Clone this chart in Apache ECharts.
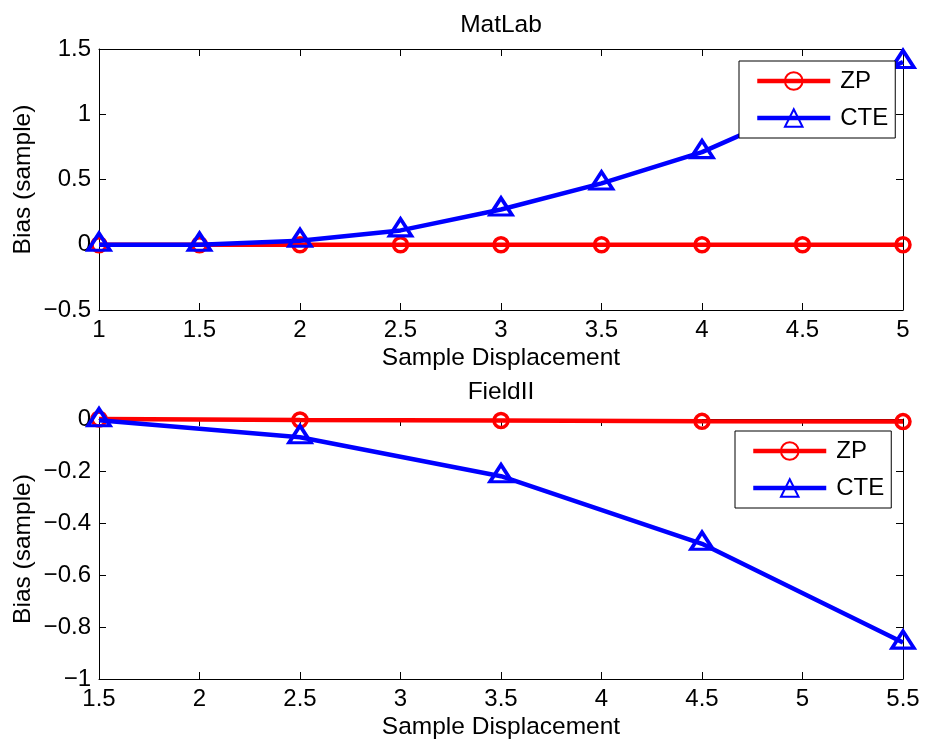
<!DOCTYPE html>
<html>
<head>
<meta charset="utf-8">
<script src="https://cdn.jsdelivr.net/npm/echarts@6/dist/echarts.min.js"></script>
<style>
  html, body { margin: 0; padding: 0; background: #fff; }
  #chart { width: 925px; height: 746px; }
</style>
</head>
<body>
<div id="chart"></div>
<script>
// Upper panel: simulated (MatLab) bias vs. displacement
const matlabX = [1, 1.5, 2, 2.5, 3, 3.5, 4, 4.5, 5];
const matlabZP = [0, 0, 0, 0, 0, 0, 0, 0, 0];
const matlabCTE = [0, 0, 0.03, 0.11, 0.27, 0.47, 0.71, 1.05, 1.40];

// Lower panel: Field II bias vs. displacement
const fieldX = [1.5, 2.5, 3.5, 4.5, 5.5];
const fieldZP = [0, -0.004, -0.006, -0.009, -0.01];
const fieldCTE = [-0.005, -0.07, -0.22, -0.48, -0.86];

const panelTitles = ['MatLab', 'FieldII'];
const seriesNames = ['ZP', 'CTE'];
const xLabel = 'Sample Displacement';
const yLabel = 'Bias (sample)';

const FONT = "'Liberation Sans', Arial, Helvetica, sans-serif";
const FS = 24;      // tick labels and legend
const FS_NAME = 24.5; // axis names and panel titles

const pairs = (xs, ys) => xs.map((x, i) => [x, ys[i]]);
const fmt = v => String(+(+v).toFixed(4)).replace('-', '\u2212');

function axis(gridIndex, position, range, opts) {
  const a = {
    type: 'value',
    gridIndex,
    position,
    min: range[0],
    max: range[1],
    interval: range[2],
    axisLine: { show: true, onZero: false, lineStyle: { color: '#000', width: 1 } },
    axisTick: { show: true, inside: true, length: 7, lineStyle: { color: '#000', width: 1 } },
    splitLine: { show: false },
    axisLabel: { show: false },
    nameMoveOverlap: false,
    nameTextStyle: { fontFamily: FONT, fontSize: FS_NAME, color: '#000' }
  };
  return Object.assign(a, opts || {});
}

const labelStyle = { show: true, color: '#000', fontFamily: FONT, fontSize: FS, formatter: fmt };

function xMain(gridIndex, range) {
  return axis(gridIndex, 'bottom', range, {
    axisLabel: Object.assign({ margin: 8 }, labelStyle),
    name: xLabel, nameLocation: 'middle', nameGap: 36
  });
}
function yMain(gridIndex, range) {
  return axis(gridIndex, 'left', range, {
    axisLabel: Object.assign({ margin: 8 }, labelStyle),
    name: yLabel, nameLocation: 'middle', nameGap: 63
  });
}

const topX = [1, 5, 0.5], topY = [-0.5, 1.5, 0.5];
const botX = [1.5, 5.5, 0.5], botY = [-1, 0, 0.2];

function zpSeries(xi, yi, data) {
  return {
    type: 'line', name: seriesNames[0], xAxisIndex: xi, yAxisIndex: yi,
    data, clip: false, z: 2,
    symbol: 'circle', symbolSize: 14,
    lineStyle: { color: '#ff0000', width: 4.5 },
    itemStyle: { color: 'rgba(0,0,0,0)', borderColor: '#ff0000', borderWidth: 3.5 },
    emphasis: { disabled: true }
  };
}
function cteSeries(xi, yi, data) {
  return {
    type: 'line', name: seriesNames[1], xAxisIndex: xi, yAxisIndex: yi,
    data, clip: false, z: 3,
    symbol: 'triangle', symbolSize: [22, 17], symbolOffset: [0, -3],
    lineStyle: { color: '#0000ff', width: 4.5 },
    itemStyle: { color: 'rgba(0,0,0,0)', borderColor: '#0000ff', borderWidth: 3.5 },
    emphasis: { disabled: true }
  };
}

function legendBox(left, top) {
  return {
    data: seriesNames, left, top, orient: 'vertical',
    itemWidth: 73, itemHeight: 22, itemGap: 13,
    padding: [8, 7, 8, 16],
    borderColor: '#000', borderWidth: 1, borderRadius: 0, backgroundColor: '#fff',
    selectedMode: false,
    lineStyle: { width: 4.5 },
    textStyle: { fontFamily: FONT, fontSize: FS, color: '#000', lineHeight: 22, padding: [0, 0, 0, 5] }
  };
}

function titleText(text, y) {
  return {
    type: 'text', x: 501, y,
    style: {
      text, fill: '#000', fontFamily: FONT, fontSize: FS_NAME,
      align: 'center', verticalAlign: 'middle',
      textAlign: 'center', textVerticalAlign: 'middle'
    }
  };
}

const chart = echarts.init(document.getElementById('chart'), null, { renderer: 'canvas' });
chart.setOption({
  animation: false,
  backgroundColor: '#fff',
  textStyle: { fontFamily: FONT },
  grid: [
    { left: 99, top: 49, width: 804, height: 261 },
    { left: 99, top: 419, width: 804, height: 260 }
  ],
  xAxis: [
    xMain(0, topX),
    axis(0, 'top', topX),
    xMain(1, botX),
    axis(1, 'top', botX)
  ],
  yAxis: [
    yMain(0, topY),
    axis(0, 'right', topY),
    yMain(1, botY),
    axis(1, 'right', botY)
  ],
  legend: [legendBox(739, 61), legendBox(735, 431)],
  graphic: [titleText(panelTitles[0], 25), titleText(panelTitles[1], 392)],
  series: [
    zpSeries(0, 0, pairs(matlabX, matlabZP)),
    cteSeries(0, 0, pairs(matlabX, matlabCTE)),
    zpSeries(2, 2, pairs(fieldX, fieldZP)),
    cteSeries(2, 2, pairs(fieldX, fieldCTE))
  ]
});
</script>
</body>
</html>
